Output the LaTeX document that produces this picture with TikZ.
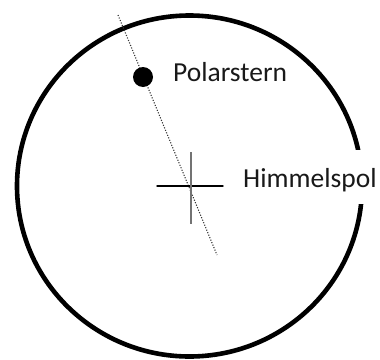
\documentclass[tikz,border=0pt]{standalone}
\usepackage{fontspec}
\setmainfont{Carlito}
\begin{document}
\begin{tikzpicture}[x=1pt,y=-1pt,line cap=round,line join=round,
  lbl/.style={font=\fontsize{27.5}{32}\selectfont,text=black!90}]
  \useasboundingbox (0,0) rectangle (380,359);
  % Himmelskreis
  \draw[line width=4.6pt] (189.5,186) ellipse (172.5 and 170.5);
  % Achse durch Polarstern
  \coordinate (axtop) at (118,15);
  \coordinate (axbot) at (217,255);
  \draw[black!80,line width=1.1pt,line cap=butt,dash pattern=on 1.1pt off 1.6pt] (axtop) -- (axbot);
  \node[circle,fill=black,minimum size=20pt,inner sep=0pt] (star) at (143,77) {};
  \node[lbl,anchor=base west,inner sep=0pt] (starlbl) at (173,81) {Polarstern};
  % Himmelspol
  \coordinate (pol) at (191,186);
  \draw[line width=1.4pt] (157,186) -- (223,186);
  \draw[black!55,line width=2.4pt,line cap=butt] (191,152) -- (191,224);
  \node[lbl,anchor=base west,fill=white,inner xsep=0pt,inner ysep=10pt,
        text height=27pt,text depth=7pt] (pollbl) at (243,187) {Himmelspol};
\end{tikzpicture}
\end{document}
